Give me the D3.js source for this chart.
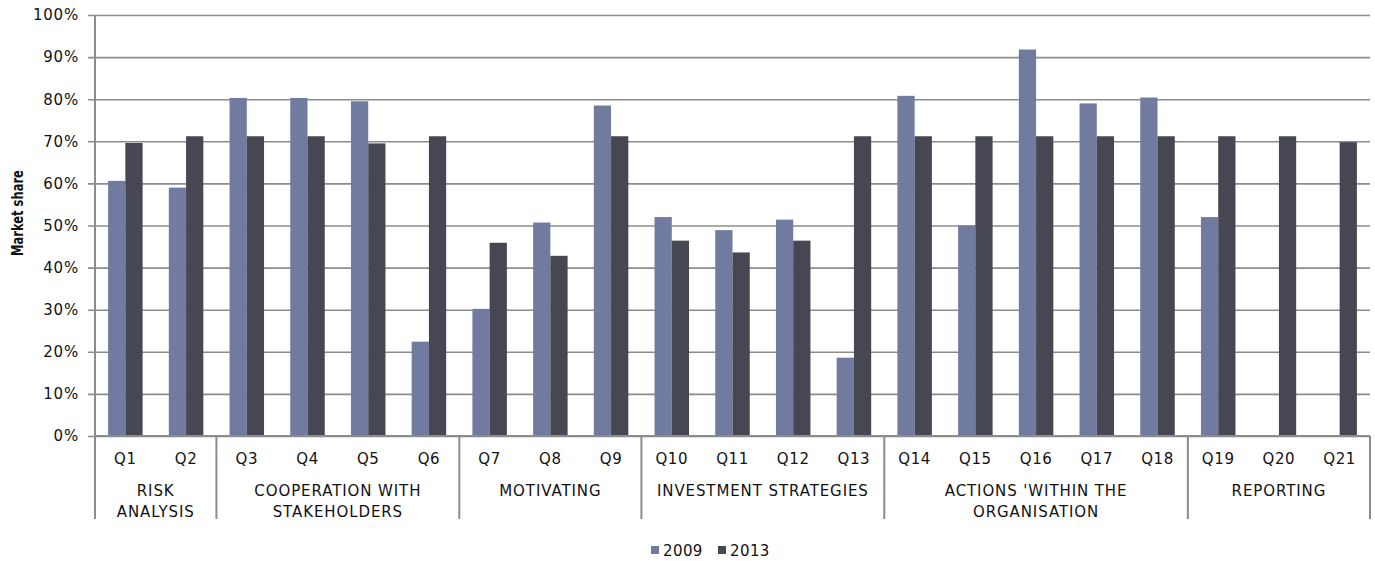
<!DOCTYPE html>
<html>
<head>
<meta charset="utf-8">
<script src="https://cdn.jsdelivr.net/npm/d3@7"></script>
<style>
  body { margin: 0; background: #fff; }
  text { font-family: "DejaVu Sans", Verdana, sans-serif; fill: #111; }
</style>
</head>
<body>
<svg></svg>
<script>
(function() {

  var questions = ['Q1','Q2','Q3','Q4','Q5','Q6','Q7','Q8','Q9','Q10','Q11','Q12','Q13','Q14','Q15','Q16','Q17','Q18','Q19','Q20','Q21'];
  var values2009 = [60.6, 59.0, 80.3, 80.3, 79.5, 22.4, 30.2, 50.7, 78.5, 52.0, 48.9, 51.4, 18.6, 80.8, 50.0, 91.8, 79.0, 80.4, 52.0, null, null];
  var values2013 = [69.6, 71.2, 71.2, 71.2, 69.5, 71.2, 45.9, 42.8, 71.2, 46.4, 43.6, 46.4, 71.2, 71.2, 71.2, 71.2, 71.2, 71.2, 71.2, 71.2, 69.8];
  var groupNames = [['RISK', 'ANALYSIS'], ['COOPERATION WITH', 'STAKEHOLDERS'], ['MOTIVATING'], ['INVESTMENT STRATEGIES'], ["ACTIONS 'WITHIN THE", 'ORGANISATION'], ['REPORTING']];
  var groupSizes = [2, 4, 3, 4, 5, 3];
  var seriesNames = ['2009', '2013'];
  var yTicks = [0, 10, 20, 30, 40, 50, 60, 70, 80, 90, 100];

  var colors = ['#717ba0', '#474653'];
  var gridColor = '#8c8c8c';

  var margin = { top: 15, right: 5, bottom: 125, left: 95 },
      width = 1375, height = 561,
      chartWidth = width - margin.left - margin.right,
      chartHeight = height - margin.top - margin.bottom;

  var svg = d3.select('svg')
      .attr('width', width)
      .attr('height', height);

  var chart = svg.append('g')
      .attr('transform', 'translate(' + margin.left + ',' + margin.top + ')');

  var xScale = d3.scaleBand()
      .domain(questions)
      .range([0, chartWidth])
      .paddingInner(0)
      .paddingOuter(0);

  var inner = d3.scaleBand()
      .domain(seriesNames)
      .range([0, xScale.bandwidth()])
      .paddingInner(0)
      .paddingOuter(0.76);

  var yScale = d3.scaleLinear()
      .domain([0, 100])
      .range([chartHeight, 0]);

  // gridlines + y axis
  var yAxis = chart.append('g')
      .call(d3.axisLeft(yScale)
        .tickValues(yTicks)
        .tickSize(-chartWidth - 7)
        .tickPadding(16)
        .tickFormat(function(d) { return d + '%'; }));
  yAxis.select('.domain').remove();
  yAxis.selectAll('.tick line')
      .attr('x1', -7)
      .attr('x2', chartWidth)
      .attr('stroke', gridColor)
      .attr('stroke-width', 1.6);
  yAxis.selectAll('.tick text')
      .style('font-size', '15px')
      .style('letter-spacing', '0.8px')
      .attr('fill', '#111');

  // bars
  var series = [values2009, values2013];
  series.forEach(function(vals, si) {
    chart.append('g')
      .selectAll('rect')
      .data(questions.map(function(q, i) { return { q: q, v: vals[i] }; })
        .filter(function(d) { return d.v != null; }))
      .enter()
      .append('rect')
        .attr('x', function(d) { return xScale(d.q) + inner(seriesNames[si]); })
        .attr('y', function(d) { return yScale(d.v); })
        .attr('width', inner.bandwidth())
        .attr('height', function(d) { return chartHeight - yScale(d.v); })
        .attr('fill', colors[si]);
  });

  // left axis line
  chart.append('line')
      .attr('x1', 0).attr('x2', 0)
      .attr('y1', 0).attr('y2', chartHeight)
      .attr('stroke', gridColor).attr('stroke-width', 2);

  // bottom axis line
  chart.append('line')
      .attr('x1', 0).attr('x2', chartWidth)
      .attr('y1', chartHeight).attr('y2', chartHeight)
      .attr('stroke', gridColor).attr('stroke-width', 2);

  // question labels
  chart.append('g')
    .selectAll('text')
    .data(questions)
    .enter()
    .append('text')
      .attr('x', function(d) { return xScale(d) + xScale.bandwidth() / 2; })
      .attr('y', chartHeight + 27.5)
      .attr('text-anchor', 'middle')
      .style('font-size', '15px')
      .style('letter-spacing', '0.6px')
      .text(function(d) { return d; });

  // group separators and labels
  var start = 0;
  var bounds = [0];
  groupSizes.forEach(function(n) { start += n; bounds.push(start); });

  function boundX(b) {
    return b < questions.length ? xScale(questions[b]) : chartWidth;
  }

  chart.append('g')
    .selectAll('line')
    .data(bounds)
    .enter()
    .append('line')
      .attr('x1', boundX)
      .attr('x2', boundX)
      .attr('y1', chartHeight)
      .attr('y2', chartHeight + 83)
      .attr('stroke', gridColor)
      .attr('stroke-width', 2);

  groupNames.forEach(function(lines, gi) {
    var cx = (boundX(bounds[gi]) + boundX(bounds[gi + 1])) / 2;
    var t = chart.append('text')
      .attr('x', cx)
      .attr('y', chartHeight + 60)
      .attr('text-anchor', 'middle')
      .style('font-size', '15px')
      .style('letter-spacing', '0.9px');
    lines.forEach(function(l, li) {
      t.append('tspan')
        .attr('x', cx)
        .attr('dy', li === 0 ? 0 : 20.5)
        .text(l);
    });
  });

  // y label (glyphs stretched a little across, like the original)
  svg.append('text')
      .attr('transform', 'translate(23,213) rotate(-90) scale(1,1.35)')
      .attr('text-anchor', 'middle')
      .style('font-size', '11.5px')
      .style('font-weight', 'bold')
      .text('Market share');

  // legend
  var legend = svg.append('g')
      .attr('transform', 'translate(651,556)');
  seriesNames.forEach(function(name, i) {
    var g = legend.append('g').attr('transform', 'translate(' + (i * 67) + ',0)');
    g.append('rect')
      .attr('x', 0).attr('y', -10)
      .attr('width', 8).attr('height', 8)
      .attr('fill', colors[i]);
    g.append('text')
      .attr('x', 12).attr('y', 0)
      .style('font-size', '15px')
      .style('letter-spacing', '0.4px')
      .text(name);
  });

})()
</script>
</body>
</html>
